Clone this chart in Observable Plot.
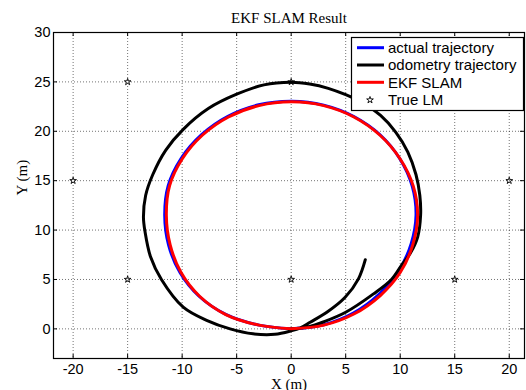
<!DOCTYPE html>
<html><head><meta charset="utf-8">
<script src="https://cdn.jsdelivr.net/npm/d3@7"></script>
<script src="https://cdn.jsdelivr.net/npm/@observablehq/plot@0.6"></script>
<style>html,body{margin:0;padding:0;background:#fff} svg{display:block}</style>
</head><body><div id="chart"></div>
<script>
const titleText = "EKF SLAM Result";
const xLabel = "X (m)";
const yLabel = "Y (m)";
const xTicks = [-20, -15, -10, -5, 0, 5, 10, 15, 20];
const yTicks = [0, 5, 10, 15, 20, 25, 30];
const legendLabels = ["actual trajectory", "odometry trajectory", "EKF SLAM", "True LM"];

const actualX = [0, 3.0, 5.7, 8.05, 9.85, 11.0, 11.45, 11.1, 9.95, 8.15, 5.75, 2.98, 0.05, -2.98, -5.8, -8.22, -10.1, -11.28, -11.6, -11.25, -10.2, -8.45, -6.0, -2.95, 0];
const actualY = [0, 0.42, 1.6, 3.5, 5.85, 8.6, 11.5, 14.45, 17.25, 19.65, 21.5, 22.65, 23.05, 22.68, 21.52, 19.66, 17.25, 14.5, 11.5, 8.5, 5.7, 3.3, 1.47, 0.38, 0];

const ekfX = [0, 3.0, 5.75, 8.15, 10.0, 11.15, 11.6, 11.2, 10.0, 8.15, 5.75, 2.98, 0.05, -2.95, -5.75, -8.15, -10.0, -11.15, -11.45, -11.1, -10.1, -8.4, -6.0, -2.95, 0];
const ekfY = [0, 0.38, 1.5, 3.35, 5.7, 8.5, 11.5, 14.45, 17.2, 19.6, 21.45, 22.6, 22.98, 22.6, 21.45, 19.6, 17.2, 14.5, 11.5, 8.5, 5.7, 3.3, 1.45, 0.38, 0];

const odomX = [0, 1.5, 3.0, 5.0, 7.55, 9.2, 10.1, 10.95, 11.6, 11.87, 11.8, 11.45, 10.7, 9.6, 8.2, 6.6, 5.0, 3.4, 1.7, 0, -2.5, -5.0, -7.6, -9.9, -11.5, -12.7, -13.35, -13.55, -13.4, -12.9, -11.9, -9.9, -7.7, -5.6, -3.5, -1.5, 0, 0.8, 1.74, 3.27, 4.95, 6.17, 6.8];
const odomY = [0, 0.18, 0.72, 1.68, 3.54, 5.0, 6.4, 7.7, 9.3, 11.5, 13.5, 15.6, 17.9, 19.9, 21.6, 22.85, 23.7, 24.35, 24.78, 24.96, 24.7, 23.75, 22.3, 20.2, 18.1, 15.6, 13.5, 11.3, 9.8, 7.3, 5.0, 2.2, 0.84, 0.0, -0.5, -0.55, -0.2, 0.08, 0.67, 1.68, 3.2, 5.06, 7.0];

const lmX = [-15, 0, -20, 20, -15, 0, 15];
const lmY = [25, 25, 15, 15, 5, 5, 5];

const toPts = (xs, ys) => xs.map((x, i) => ({x, y: ys[i]}));
const actual = toPts(actualX, actualY);
const ekf = toPts(ekfX, ekfY);
const odom = toPts(odomX, odomY);
const lms = toPts(lmX, lmY);

const W = 526, H = 390, mL = 53, mR = 2, mT = 32, mB = 32;
const fw = W - mL - mR, fh = H - mT - mB;
const sans = "'Liberation Sans', Arial, sans-serif";
const serif = "'Liberation Serif', 'Times New Roman', serif";
const starR = 2.1;

const grid = {stroke: "#000", strokeOpacity: 0.55, strokeDasharray: "1,2", strokeWidth: 1};
const lineCurve = "catmull-rom";

const plot = Plot.plot({
  width: W, height: H,
  marginLeft: mL, marginRight: mR, marginTop: mT, marginBottom: mB,
  x: {domain: [-21.8, 21.4]},
  y: {domain: [-3, 30]},
  style: {fontFamily: sans, fontSize: "14.5px", background: "#fff", color: "#000"},
  marks: [
    Plot.gridX(xTicks, grid),
    Plot.gridY(yTicks, grid),
    Plot.line(actual, {x: "x", y: "y", stroke: "#0000ff", strokeWidth: 3, curve: lineCurve}),
    Plot.line(odom, {x: "x", y: "y", stroke: "#000", strokeWidth: 3, curve: lineCurve}),
    Plot.line(ekf, {x: "x", y: "y", stroke: "#ff0000", strokeWidth: 3, curve: lineCurve}),
    Plot.dot(lms, {x: "x", y: "y", symbol: "star", r: starR, stroke: "#000", fill: "none", strokeWidth: 0.9}),
    Plot.tickX(xTicks, {x: d => d, insetTop: fh - 4, stroke: "#000"}),
    Plot.tickX(xTicks, {x: d => d, insetBottom: fh - 4, stroke: "#000"}),
    Plot.tickY(yTicks, {y: d => d, insetRight: fw - 4, stroke: "#000"}),
    Plot.tickY(yTicks, {y: d => d, insetLeft: fw - 4, stroke: "#000"}),
    Plot.frame({stroke: "#000", strokeWidth: 1.2}),
    Plot.axisX(xTicks, {tickSize: 0, tickPadding: 5, label: null, tickFormat: d => String(d)}),
    Plot.axisY(yTicks, {tickSize: 0, tickPadding: 3, label: null, tickFormat: d => String(d)}),
    Plot.text([titleText], {frameAnchor: "top", dy: -10, lineAnchor: "bottom", fontFamily: serif, fontSize: 15}),
    Plot.text([xLabel], {frameAnchor: "bottom", dy: 30, lineAnchor: "bottom", fontFamily: serif, fontSize: 15}),
    Plot.text([yLabel], {frameAnchor: "left", dx: -27, rotate: -90, lineAnchor: "bottom", fontFamily: serif, fontSize: 15})
  ]
});

// Legend (MATLAB style box, top-right)
const svg = d3.select(plot);
const lg = svg.append("g").attr("text-anchor", "start");
const lx = 351, ly = 37, lw = 173, lh = 73;
lg.append("rect").attr("x", lx + 0.5).attr("y", ly + 0.5).attr("width", lw - 1).attr("height", lh)
  .attr("fill", "#fff").attr("stroke", "#000").attr("stroke-width", 1.2);
const rows = [47.7, 65, 82.3, 100];
const colors = ["#0000ff", "#000", "#ff0000", null];
legendLabels.forEach((lab, i) => {
  const yy = rows[i];
  if (colors[i]) {
    lg.append("line").attr("x1", 357).attr("x2", 384).attr("y1", yy).attr("y2", yy)
      .attr("stroke", colors[i]).attr("stroke-width", 3);
  } else {
    lg.append("path").attr("d", d3.symbol(d3.symbolStar, starR * starR * Math.PI)())
      .attr("transform", `translate(370,${yy})`).attr("fill", "none").attr("stroke", "#000").attr("stroke-width", 0.9);
  }
  lg.append("text").attr("x", 388).attr("y", yy).attr("dy", "0.35em").attr("text-anchor", "start")
    .attr("font-family", sans).attr("font-size", 15).attr("fill", "#000").text(lab);
});

document.getElementById("chart").appendChild(plot);
</script>
</body></html>
